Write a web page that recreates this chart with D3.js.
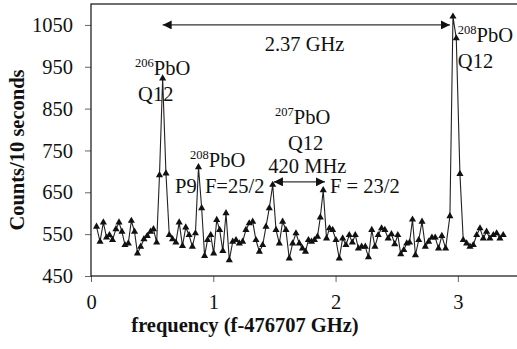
<!DOCTYPE html>
<html>
  <head>
    <meta charset="utf-8">
    <style>
      body {
        margin: 0;
        background: white;
        font-family: "Liberation Serif", "Times New Roman", serif;
      }
      svg text {
        fill: #111;
      }
    </style>
    <script src="https://cdn.jsdelivr.net/npm/d3@7"></script>
  </head>
  <body>
    <svg id="Spectrum"></svg>
  </body>
  <script>
    // frequency offsets (GHz) and counts
    let freqs = [
      0.045, 0.074, 0.101, 0.127, 0.151, 0.176, 0.204, 0.229, 0.253, 0.278,
      0.305, 0.330, 0.356, 0.380, 0.406, 0.433, 0.460, 0.487, 0.511, 0.537,
      0.560, 0.586, 0.613, 0.640, 0.667, 0.694, 0.721, 0.748, 0.775, 0.802,
      0.829, 0.854, 0.879, 0.905, 0.929, 0.953, 0.979, 1.003, 1.028, 1.052,
      1.078, 1.104, 1.131, 1.159, 1.186, 1.213, 1.240, 1.267, 1.294, 1.322,
      1.349, 1.377, 1.404, 1.431, 1.458, 1.486, 1.513, 1.540, 1.567, 1.594,
      1.621, 1.649, 1.676, 1.703, 1.729, 1.754, 1.778, 1.803, 1.827, 1.852,
      1.875, 1.899, 1.926, 1.950, 1.976, 2.003, 2.030, 2.058, 2.085, 2.112,
      2.137, 2.161, 2.187, 2.213, 2.243, 2.269, 2.296, 2.322, 2.349, 2.376,
      2.403, 2.430, 2.457, 2.484, 2.509, 2.533, 2.558, 2.582, 2.605, 2.629,
      2.653, 2.680, 2.707, 2.734, 2.761, 2.788, 2.815, 2.842, 2.869, 2.900,
      2.935, 2.960, 2.987, 3.017, 3.044, 3.072, 3.099, 3.126, 3.154, 3.181,
      3.208, 3.235, 3.262, 3.290, 3.317, 3.344, 3.371
    ];
    let counts = [
      568, 532, 578, 542, 548, 536, 562, 578, 556, 524,
      528, 582, 556, 504, 520, 538, 546, 556, 562, 530,
      691, 922, 695, 548, 538, 530, 578, 522, 566, 548,
      520, 552, 710, 612, 498, 536, 548, 504, 584, 560,
      510, 600, 488, 532, 536, 528, 532, 560, 576, 580,
      536, 508, 524, 568, 612, 668, 560, 528, 580, 560,
      492, 528, 552, 528, 516, 508, 536, 532, 536, 544,
      590, 655, 540, 564, 560, 536, 492, 540, 524, 548,
      530, 548, 516, 520, 520, 495, 560, 520, 548, 564,
      560, 540, 550, 526, 548, 502, 512, 528, 530, 585,
      500, 536, 580, 520, 532, 542, 542, 516, 546, 516,
      593, 1070, 1018, 694, 536, 528, 520, 524, 548, 564,
      540, 556, 540, 548, 552, 540, 548
    ];
    let xTicks = [0, 1, 2, 3];
    let yTicks = [450, 550, 650, 750, 850, 950, 1050];

    let fontSize = 20.5;

    function getConfig() {
      let width = 517;
      let height = 349;
      let margin = { top: 4, bottom: 73, left: 91, right: -2 };
      let bodyWidth = width - margin.left - margin.right;
      let bodyHeight = height - margin.top - margin.bottom;
      let container = d3.select("#Spectrum");
      container.attr("width", width).attr("height", height);
      return { width, height, margin, bodyWidth, bodyHeight, container };
    }

    function getScales(config) {
      let { margin, bodyWidth, bodyHeight } = config;
      let xScale = d3
        .scaleLinear()
        .domain([0, 3.5])
        .range([margin.left, margin.left + bodyWidth]);
      let yScale = d3
        .scaleLinear()
        .domain([450, 1100])
        .range([margin.top + bodyHeight, margin.top]);
      return { xScale, yScale };
    }

    function drawAxes(scales, config) {
      let { container, margin, bodyWidth, bodyHeight } = config;
      let { xScale, yScale } = scales;

      let axisX = d3.axisBottom(xScale).tickValues(xTicks).tickSize(6).tickPadding(12)
        .tickFormat(d3.format("d"));
      let gx = container
        .append("g")
        .attr("transform", `translate(0,${margin.top + bodyHeight})`)
        .call(axisX);

      let axisY = d3.axisLeft(yScale).tickValues(yTicks).tickSize(6).tickPadding(12)
        .tickFormat(d3.format("d"));
      let gy = container
        .append("g")
        .attr("transform", `translate(${margin.left},0)`)
        .call(axisY);

      [gx, gy].forEach((g) => {
        g.select(".domain").remove();
        g.selectAll(".tick line").attr("stroke", "#666");
        g.selectAll(".tick text")
          .attr("font-family", "Liberation Serif")
          .attr("font-size", fontSize)
          .attr("fill", "#111");
      });

      // plot frame
      container
        .append("rect")
        .attr("x", margin.left)
        .attr("y", margin.top)
        .attr("width", bodyWidth)
        .attr("height", bodyHeight)
        .attr("fill", "none")
        .attr("stroke", "#111")
        .attr("stroke-width", 1.2);

      container
        .append("text")
        .attr("x", margin.left + 154)
        .attr("y", 332)
        .attr("text-anchor", "middle")
        .attr("font-weight", "bold")
        .attr("font-size", fontSize)
        .text("frequency (f-476707 GHz)");

      container
        .append("text")
        .attr("transform", "translate(24,150) rotate(-90)")
        .attr("text-anchor", "middle")
        .attr("font-weight", "bold")
        .attr("font-size", fontSize)
        .text("Counts/10 seconds");
    }

    function drawSeries(scales, config) {
      let { container } = config;
      let { xScale, yScale } = scales;
      let points = freqs.map((f, i) => ({ f, c: counts[i] }));

      let line = d3
        .line()
        .x((d) => xScale(d.f))
        .y((d) => yScale(d.c));

      container
        .append("path")
        .datum(points)
        .attr("d", line)
        .attr("fill", "none")
        .attr("stroke", "#222")
        .attr("stroke-width", 1.1);

      let tri = d3.symbol().type(d3.symbolTriangle).size(22);
      container
        .selectAll(".pt")
        .data(points)
        .enter()
        .append("path")
        .attr("class", "pt")
        .attr("d", tri)
        .attr("transform", (d) => `translate(${xScale(d.f)},${yScale(d.c)})`)
        .attr("fill", "#111");
    }

    function label(container, x, y, sup, main) {
      let t = container
        .append("text")
        .attr("x", x)
        .attr("y", y)
        .attr("font-size", fontSize);
      if (sup) {
        t.append("tspan").attr("font-size", 12.5).attr("dy", -8).text(sup);
        t.append("tspan").attr("dy", 8).text(main);
      } else {
        t.text(main);
      }
    }

    function drawAnnotations(scales, config) {
      let { container } = config;
      let { xScale, yScale } = scales;

      let defs = container.append("defs");
      defs
        .append("marker")
        .attr("id", "head")
        .attr("viewBox", "0 0 10 10")
        .attr("refX", 10)
        .attr("refY", 5)
        .attr("markerWidth", 9)
        .attr("markerHeight", 9)
        .attr("markerUnits", "userSpaceOnUse")
        .attr("orient", "auto-start-reverse")
        .append("path")
        .attr("d", "M0,0 L10,5 L0,10 Z")
        .attr("fill", "#111");

      // 2.37 GHz spacing between the two Q12 lines
      container
        .append("line")
        .attr("x1", xScale(0.586))
        .attr("x2", xScale(2.935))
        .attr("y1", yScale(1050))
        .attr("y2", yScale(1050))
        .attr("stroke", "#333")
        .attr("stroke-width", 1.2)
        .attr("marker-start", "url(#head)")
        .attr("marker-end", "url(#head)");

      // 420 MHz hyperfine splitting
      container
        .append("line")
        .attr("x1", xScale(1.496))
        .attr("x2", xScale(1.913))
        .attr("y1", yScale(675))
        .attr("y2", yScale(675))
        .attr("stroke", "#333")
        .attr("stroke-width", 1.2)
        .attr("marker-start", "url(#head)")
        .attr("marker-end", "url(#head)");

      label(container, xScale(1.42), yScale(988), null, "2.37 GHz");
      label(container, xScale(0.36), yScale(930), "206", "PbO");
      label(container, xScale(0.385), yScale(868), null, "Q12");
      label(container, xScale(0.81), yScale(710), "208", "PbO");
      label(container, xScale(0.687), yScale(648), null, "P9");
      label(container, xScale(0.932), yScale(648), null, "F=25/2");
      label(container, xScale(1.505), yScale(813), "207", "PbO");
      label(container, xScale(1.61), yScale(752), null, "Q12");
      label(container, xScale(1.45), yScale(696), null, "420 MHz");
      label(container, xScale(1.955), yScale(648), null, "F = 23/2");
      label(container, xScale(3.0), yScale(1008), "208", "PbO");
      label(container, xScale(3.0), yScale(947), null, "Q12");
    }

    function drawChart() {
      let config = getConfig();
      let scales = getScales(config);
      drawSeries(scales, config);
      drawAxes(scales, config);
      drawAnnotations(scales, config);
    }

    drawChart();
  </script>
</html>
